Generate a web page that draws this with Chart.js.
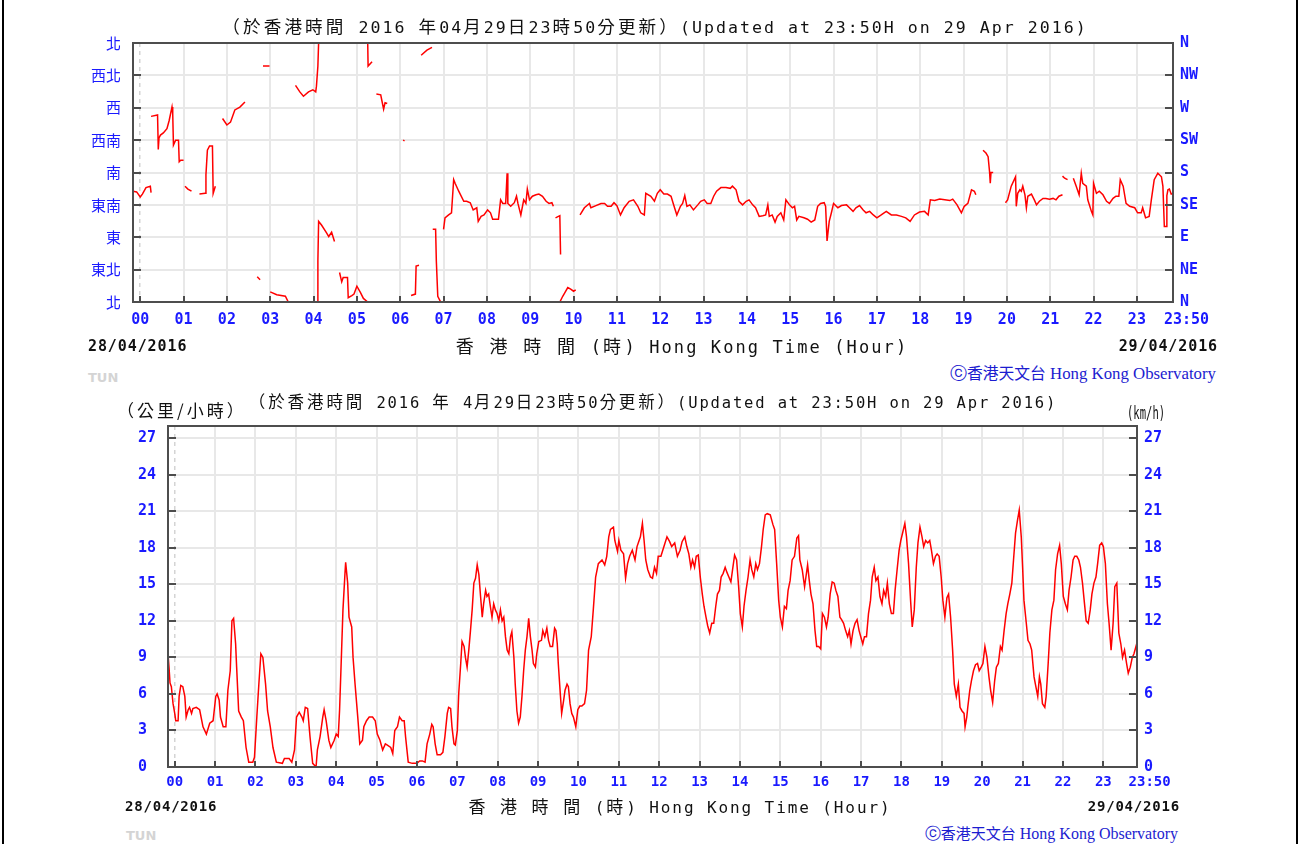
<!DOCTYPE html>
<html>
<head>
<meta charset="utf-8">
<script src="https://cdn.jsdelivr.net/npm/chart.js@4.4.1/dist/chart.umd.min.js"></script>
<style>
  body { margin: 0; background: #fff; }
  #page { position: relative; width: 1303px; height: 844px; overflow: hidden; background: #fff; }
  canvas { position: absolute; left: 0; }
  #dirChart { top: 0; }
  #spdChart { top: 390px; }
  .t { position: absolute; white-space: nowrap; font-family: "DejaVu Sans Mono", monospace; font-size: 16px; line-height: 20px; letter-spacing: 1.9px; color: #111; }
  .t .zh { font-family: "Noto Sans CJK TC", sans-serif; font-size: 17px; letter-spacing: 3px; }
  .t.big { font-size: 16.6px; letter-spacing: 2px; }
  .t.big .zh { font-size: 17.6px; letter-spacing: 3.1px; }
  .t.small { font-size: 15.5px; letter-spacing: 1.85px; }
  .t.small .zh { font-size: 16.5px; letter-spacing: 2.9px; }
  .t.axbig { font-size: 17px; letter-spacing: 2.1px; }
  .t.axbig .zh { font-size: 18px; letter-spacing: 3.4px; }
  .mid { transform: translateX(-50%); }
  .date { font-weight: bold; font-size: 15px; letter-spacing: 0.9px; }
  .date.sm { font-size: 14px; letter-spacing: 0.8px; }
  .credit { font-family: "Liberation Serif", serif; font-size: 16px; letter-spacing: 0; color: #1c1cd0; }
  .credit .zh { font-size: 15px; letter-spacing: 0; }
  .credit.lg { font-size: 16.8px; }
  .credit.lg .zh { font-size: 15.8px; }
  .tun { font-family: "DejaVu Sans", sans-serif; font-weight: bold; font-size: 13px; line-height: 15px; color: #d4d4d4; letter-spacing: 0; }
  .unit { font-size: 17px; letter-spacing: 0; transform: scaleX(0.62); transform-origin: left center; }
  .edge { position: absolute; top: 0; width: 2px; height: 844px; background: #000; }
</style>
</head>
<body>
<div id="page">
  <canvas id="dirChart" width="1303" height="335"></canvas>
  <canvas id="spdChart" width="1303" height="430"></canvas>

  <div class="t big mid" style="left:655px;top:16px"><span class="zh">（於香港時間</span> 2016 <span class="zh">年</span>04<span class="zh">月</span>29<span class="zh">日</span>23<span class="zh">時</span>50<span class="zh">分更新）</span>(Updated at 23:50H on 29 Apr 2016)</div>
  <div class="t axbig mid" style="left:682px;top:335px"><span class="zh">香</span> <span class="zh">港</span> <span class="zh">時</span> <span class="zh">間</span> (<span class="zh">時</span>) Hong Kong Time (Hour)</div>
  <div class="t date" style="left:88px;top:336px">28/04/2016</div>
  <div class="t date" style="right:85px;top:336px">29/04/2016</div>
  <div class="t credit lg" style="right:87px;top:363px">ⓒ<span class="zh">香港天文台</span> Hong Kong Observatory</div>
  <div class="t tun" style="left:88px;top:370px">TUN</div>

  <div class="t" style="left:117px;top:400px"><span class="zh">（公里/小時）</span></div>
  <div class="t small mid" style="left:653px;top:391px"><span class="zh">（於香港時間</span> 2016 <span class="zh">年</span> 4<span class="zh">月</span>29<span class="zh">日</span>23<span class="zh">時</span>50<span class="zh">分更新）</span>(Updated at 23:50H on 29 Apr 2016)</div>
  <div class="t unit" style="left:1127px;top:403px">(km/h)</div>
  <div class="t mid" style="left:680px;top:796px"><span class="zh">香</span> <span class="zh">港</span> <span class="zh">時</span> <span class="zh">間</span> (<span class="zh">時</span>) Hong Kong Time (Hour)</div>
  <div class="t date sm" style="left:125px;top:796px">28/04/2016</div>
  <div class="t date sm" style="right:123px;top:796px">29/04/2016</div>
  <div class="t credit" style="right:125px;top:823px">ⓒ<span class="zh">香港天文台</span> Hong Kong Observatory</div>
  <div class="t tun" style="left:126px;top:828px">TUN</div>

  <div class="edge" style="left:2px"></div>
  <div class="edge" style="left:1296px"></div>
</div>

<script>
// time axis, minutes from 00:00 on 29/04 (window starts 23:50 the day before)
const hourTicks = [0, 60, 120, 180, 240, 300, 360, 420, 480, 540, 600, 660, 720, 780, 840, 900,
  960, 1020, 1080, 1140, 1200, 1260, 1320, 1380, 1430];
const hourLabels = ['00', '01', '02', '03', '04', '05', '06', '07', '08', '09', '10', '11', '12',
  '13', '14', '15', '16', '17', '18', '19', '20', '21', '22', '23', '23:50'];

// wind direction (degrees), null = break in the trace
const dirTicks = [0, 45, 90, 135, 180, 225, 270, 315, 360];
const dirLabelsZh = ['北', '東北', '東', '東南', '南', '西南', '西', '西北', '北'];
const dirLabelsEn = ['N', 'NE', 'E', 'SE', 'S', 'SW', 'W', 'NW', 'N'];

const dirMinutes = [
  -10, -5, 0, 3, 8, 14, 15, null,
  15, 24, 25, 26, 28, 32, 37, 40, 44, 45, 46, 49, 53, 54, 56, 60, null,
  62, 66, 71, null,
  82, 90, 91, 93, 96, 100, 101, 104, null,
  114, 120, 125, 131, 138, 145, null,
  162, 166, null,
  170, 179, null,
  180, 189, 201, 205, 212, null,
  215, 221, 226, 233, 239, 243, 244, 246, 247, null,
  245, 246, 247, 251, 258, 261, 265, 269, null,
  276, 279, 281, 287, 288, 293, 296, 300, 305, 309, 315, null,
  315, 315.5, 321, null,
  327, 333, 335, 337, 339, 342, null,
  364, 366, null,
  375, 381, 382, 386, null,
  389, 397, 404, null,
  405, 409, 410, 412, 416, null,
  413, 418, null,
  420, 422, 427, 431, 434, 436, 441, 448, 452, 457,
  461, 466, 468, 472, 476, 481, 485, 488, 496, 499,
  502, 506, 508, 509, 513, 518, 521, 523, 527, 531,
  534, 536, 539, 543, 548, 552, 557, 562, 566, 570,
  572, null,
  575, 581, 582, null,
  581, 585, 588, 592, 596, 600, 603, null,
  609, 615, 622, 624, 631, 638, 643, 647, 652, 656,
  660, 665, 670, 677, 683, 689, 693, 698, 700, 707,
  712, 716, 720, 725, 730, 735, 738, 743, 748, 751,
  754, 757, 761, 766, 772, 776, 781, 785, 790, 794,
  798, 804, 811, 817, 820, 825, 829, 834, 839, 843,
  848, 852, 857, 862, 866, 869, 871, 875, 879, 882,
  887, 891, 894, 899, 903, 906, 909, 912, 919, 924,
  929, 934, 938, 942, 947,
  949, 951, 954, 957, 960, 966, 971, 978, 982, 987,
  991, 996, 1001, 1005, 1010, 1015, 1020, 1026, 1033, 1040,
  1047, 1054, 1060, 1066, 1072, 1079, 1086, 1091, 1094, 1100,
  1107, 1114, 1121, 1125, 1131, 1137, 1141, 1146, 1151, 1155,
  1157, null,
  1167, 1171, 1174, 1176, 1177, 1178, 1181, null,
  1198, 1201, 1206, 1212, 1213, 1215, 1218, 1220, 1222, 1225,
  1227, 1229, 1234, 1238, 1241, 1245, 1250, 1254, 1259, 1264,
  1268, 1272, 1277, null,
  1277, 1280, 1284, null,
  1292, 1296, 1300, 1303, 1305, 1310, 1312, 1317, 1319, 1320,
  1324, 1328, 1333, 1338, 1342, 1347, 1351, 1355, 1357, 1361,
  1365, 1370, 1377, 1381, 1386, 1388, 1392, 1397, 1400, 1404,
  1409, 1414, 1416, 1418, 1421, 1421.5, 1423, 1425, 1427.5, 1430
];
const dirDegrees = [
  154, 153, 146, 150, 159, 161, 152, null,
  258, 260, 212, 228, 232, 235, 241, 252, 271, 262, 218, 225, 225, 195, 197, 197, null,
  161, 157, 154, null,
  150, 151, 177, 211, 217, 217, 151, 161, null,
  255, 246, 250, 267, 271, 278, null,
  35, 31, null,
  328, 328, null,
  14, 10, 8, 0, 0, null,
  301, 292, 286, 292, 295, 292, 300, 328, 360, null,
  0, 57, 112, 107, 96, 91, 97, 84, null,
  41, 28, 34, 34, 6, 9, 11, 22, 13, 5, 0, null,
  360, 328, 334, null,
  289, 288, 278, 268, 277, 276, null,
  225, 224, null,
  9, 11, 50, 51, null,
  343, 350, 354, null,
  101, 101, 57, 8, 0, null,
  360, 360, null,
  101, 117, 121, 124, 170, 165, 154, 140, 140, 138,
  128, 131, 112, 119, 121, 128, 124, 115, 115, 142,
  137, 137, 179, 137, 133, 138, 147, 137, 121, 142,
  137, 157, 142, 147, 149, 150, 147, 140, 137, 138,
  133, null,
  117, 120, 66, null,
  0, 8, 13, 20, 18, 15, 17, null,
  121, 131, 137, 131, 134, 137, 137, 133, 133, 138,
  134, 121, 131, 140, 142, 133, 124, 121, 151, 147,
  140, 151, 156, 150, 150, 147, 137, 121, 133, 137,
  148, 133, 135, 128, 135, 140, 142, 137, 137, 147,
  154, 159, 159, 158, 161, 156, 140, 135, 140, 142,
  135, 131, 119, 120, 121, 135, 119, 121, 111, 119,
  124, 114, 142, 135, 131, 133, 114, 119, 117, 115,
  111, 114, 133, 137, 138,
  133, 85, 112, 124, 137, 131, 134, 135, 131, 126,
  131, 134, 128, 124, 126, 121, 117, 121, 126, 121,
  121, 119, 117, 112, 121, 125, 126, 121, 142, 141,
  143, 142, 141, 143, 135, 124, 133, 137, 156, 154,
  149, null,
  211, 207, 202, 181, 165, 180, 180, null,
  138, 142, 161, 174, 133, 151, 156, 154, 161, 149,
  131, 147, 150, 142, 135, 140, 144, 144, 143, 144,
  142, 147, 149, null,
  175, 172, 170, null,
  172, 161, 149, 179, 165, 161, 142, 126, 121, 165,
  151, 154, 149, 140, 137, 144, 147, 147, 170, 161,
  137, 133, 131, 124, 124, 131, 117, 119, 142, 170,
  179, 174, 161, 105, 105, 148, 156, 157, 150, 151
];

// wind speed (km/h)
const spdTicks = [0, 3, 6, 9, 12, 15, 18, 21, 24, 27];

const spdMinutes = [
  -10, -8.5, -7, -5, -2.5, 0, 1.5, 5, 6.5, 9,
  12, 15, 17, 20, 22, 25, 27, 32, 37, 42,
  47, 52, 57, 61, 63, 66, 68, 72, 76, 79,
  82.5, 85, 87.5, 90.5, 92, 95, 99, 102, 106, 110,
  116, 118.5, 122, 125, 128, 131, 135, 138, 142, 146,
  151, 160, 163, 170, 174, 178, 181, 185, 189, 191,
  194, 197.5, 201, 205, 210, 212, 216, 220, 222, 225,
  229, 232, 237, 240, 243, 245, 248, 250, 253, 254,
  257, 259, 263, 265, 268, 272, 275, 279, 281, 285,
  289, 294, 298, 301, 305, 309, 313, 316, 321, 324,
  327, 331, 334, 338, 341, 343, 347, 353, 360, 364,
  368, 372, 375, 379, 382, 384, 387, 390, 395, 398.5,
  401.5, 405, 407, 410, 412, 415, 417, 420, 422, 425,
  427, 430, 432, 434.5, 437, 439.5, 442, 444.5, 447, 449.5,
  452, 454.5, 457, 459, 462, 464, 466.5, 469, 471.5, 474,
  476.5, 479, 481.5, 484, 486.5, 489, 491.5, 494, 496.5, 499,
  501, 504, 506, 508.5, 511, 513.5, 516, 518.5, 521, 523.5,
  526, 528.5, 531, 533, 536, 538, 541, 545, 547, 550,
  553, 555.5, 558, 561.5, 564.5, 566.5, 568.5, 570, 573, 575,
  578, 580, 583, 585, 587.5, 590, 592.5, 596, 599, 602,
  605, 609, 612, 615, 619, 622, 625.5, 629.5,
  635, 639, 642, 645, 647.5, 652, 654, 658, 660, 663,
  667, 670, 673, 676, 680, 684, 687, 692, 695, 697.5,
  700, 703, 707, 710, 713, 716, 718.5, 722.5, 727, 731.5,
  735.5, 738.5, 743, 747, 751, 754, 758, 761, 764, 767,
  769.5, 772.5, 775, 778, 781, 784, 786.5, 789.5, 792, 795,
  798, 801, 804, 806.5, 809.5, 812, 815, 818, 820.5, 823.5,
  826.5, 829, 832, 835, 838, 840.5, 843.5, 846, 849, 852,
  855, 857.5, 860.5, 863.5, 866, 869, 872, 874.5, 877.5, 880.5,
  885, 889, 891.5, 894.5, 897.5, 900, 903, 906, 909, 911.5,
  914.5, 917.5, 921, 924.5, 927, 929, 932.5, 936, 938, 940.5,
  943, 945.5, 948.5, 951.5, 954, 957, 960, 962.5, 965.5, 968.5,
  971, 974, 977, 980, 982.5, 985.5, 988.5, 991, 994, 997,
  1000, 1002.5, 1005, 1008, 1011, 1014, 1017, 1019.5, 1022.5, 1025,
  1028, 1031, 1034, 1036.5, 1039.5, 1042, 1045, 1048, 1051, 1053.5,
  1056.5, 1059, 1062, 1065, 1068, 1070.5, 1073.5, 1076.5, 1079, 1082,
  1085, 1087.5, 1090.5, 1093.5, 1096, 1099, 1102, 1104.5, 1107.5, 1110.5,
  1113, 1116, 1119, 1122, 1124.5, 1127.5, 1130.5, 1133, 1136, 1139,
  1141.5, 1144.5, 1147.5, 1150, 1153, 1156, 1158.5, 1161.5, 1164.5, 1167,
  1170, 1173, 1174.5, 1177, 1178.5, 1181.5, 1184, 1187, 1190, 1193,
  1195.5, 1198.5, 1201, 1204, 1207, 1210, 1212.5, 1215.5, 1218.5, 1221,
  1224, 1227, 1229.5, 1232.5, 1235.5, 1238, 1241, 1244, 1246.5, 1249.5,
  1252.5, 1255, 1258, 1260, 1262, 1265.5, 1268, 1271, 1273.5, 1277,
  1279, 1282.5, 1285, 1287, 1289.5, 1293, 1295, 1298, 1300.5, 1303.5,
  1306.5, 1309, 1312, 1315, 1317.5, 1320.5, 1323.5, 1326.5, 1329, 1332,
  1335, 1337.5, 1340.5, 1343.5, 1346, 1349, 1352, 1354.5, 1357.5, 1360.5,
  1363, 1366, 1369, 1371.5, 1374.5, 1377.5, 1380, 1383, 1386, 1388.5,
  1391.5, 1394.5, 1397, 1400, 1403, 1406, 1408.5, 1411.5, 1414.5, 1417,
  1420, 1423, 1425.5, 1428.5, 1430
];
const spdValues = [
  9.3, 8.2, 6.9, 6.6, 5.2, 4.4, 3.8, 3.8, 5.8, 6.7,
  6.6, 5.8, 4.1, 4.7, 4.9, 4.4, 4.8, 4.9, 4.7, 3.3,
  2.7, 3.6, 3.8, 5.8, 6, 5.5, 4.1, 3.3, 3.3, 6.3,
  7.9, 12, 12.2, 10.1, 8.2, 4.6, 4.1, 3.8, 1.6, 0.4,
  0.4, 0.8, 4.1, 6.8, 9.3, 9, 6.8, 4.6, 3.3, 1.6,
  0.4, 0.3, 0.7, 0.7, 0.4, 1.4, 4.1, 4.5, 4.1, 3.8,
  4.9, 4.8, 2.5, 0.3, 0, 1.4, 2.5, 4.1, 4.7, 3.8,
  2.2, 1.6, 2.2, 2.7, 2.5, 4.7, 9.6, 12.9, 15.9, 16.8,
  15.1, 12.3, 11.5, 9, 6.8, 4.1, 1.9, 2.2, 3.3, 3.8,
  4.1, 4.1, 3.8, 2.7, 2.2, 1.4, 1.9, 1.8, 1.6, 1.1,
  3, 3.3, 4.1, 3.8, 3.8, 2.5, 0.4, 0.3, 0.3, 0.5,
  0.5, 0.4, 1.9, 2.7, 3.5, 3.3, 1.9, 1, 1, 1.2,
  2.5, 4.4, 4.9, 4.8, 3.3, 1.9, 1.8, 3, 6, 8.5,
  10.3, 9.9, 9, 8.2, 9.6, 11.2, 12.9, 15.1, 15.5, 16.6,
  15.8, 14, 12.3, 13.4, 14.5, 14, 14.2, 13.2, 12.3, 13.4,
  12.9, 12.6, 12, 12.9, 12, 12.3, 10.7, 9.6, 9.3, 10.7,
  11.1, 9, 6.8, 4.6, 3.6, 4.1, 5.8, 7.9, 9.6, 10.7,
  12.2, 10.7, 9.6, 8.5, 8.2, 9.3, 10.3, 10.4, 11.2, 10.7,
  11.4, 10.4, 9.9, 9.9, 11.4, 11.2, 10.1, 8.5, 6, 4.4,
  5.5, 6.3, 6.8, 6.6, 5.2, 4.4, 4.1, 3.3, 4.7, 5,
  5, 5.2, 6.3, 9.6, 10.7, 12.9, 15.6, 16.7,
  17, 16.6, 17.3, 18.9, 19.5, 19.7, 18.6, 17.7, 18.6, 17.8,
  17.5, 15.5, 16.7, 17.3, 17.8, 17, 18.1, 18.9, 20, 18.6,
  17, 16.2, 15.6, 15.5, 16.4, 15.9, 17.3, 17.3, 18.1, 18.9,
  18.5, 18.1, 18.4, 17.3, 17.8, 18.5, 18.9, 18.1, 17.5, 16.4,
  17, 16.4, 17.3, 17.4, 15.6, 14.2, 13.2, 12.3, 11.6, 11,
  11.8, 11.8, 13.2, 14.2, 14.5, 15.6, 15.9, 16.4, 16, 15.6,
  15.2, 16.2, 17.4, 17, 14.8, 12.6, 11.5, 13.2, 14.5, 15.6,
  17, 16.2, 15.6, 16.7, 16.2, 16.7, 18.1, 19.5, 20.7, 20.8,
  20.7, 19.9, 19.5, 16.7, 13.7, 12.3, 11.5, 13.2, 13, 14.5,
  15.3, 17, 17.3, 18.8, 19, 17, 16.2, 14.8, 15.6, 16.6,
  15.3, 14.2, 13.4, 11.2, 9.9, 9.9, 9.7, 12.6, 12.3, 11.5,
  12.3, 14.2, 15.2, 15.1, 14.5, 14, 12.3, 12.1, 11.8, 11.2,
  10.7, 11.2, 10.1, 11.2, 11.8, 12.1, 11.2, 10.7, 10.1, 10.7,
  10.7, 12.6, 13.7, 15.6, 16.4, 15.3, 15.6, 14, 13.4, 14.5,
  14, 15.1, 13.4, 12.6, 12.6, 14.5, 16.2, 17.8, 18.6, 19.3,
  20, 18.9, 16.7, 13.7, 11.5, 12.9, 16.4, 18.4, 19.7, 18.9,
  18.1, 18.6, 18.4, 18.6, 17.8, 16.7, 17.3, 17.5, 17.3, 15.6,
  13.7, 12.3, 13.9, 14.2, 12.3, 9.6, 6.8, 5.8, 6.8, 4.9,
  4.6, 4.4, 3.3, 4.1, 4.9, 6.3, 7.1, 7.9, 8.4, 8.5,
  7.9, 8.2, 8.5, 9.9, 9, 7.4, 6.3, 5.3, 7.1, 8.2,
  8.5, 9.9, 9.6, 11.2, 12.6, 13.4, 14.2, 15.1, 17, 19.2,
  20.3, 21.1, 18.9, 16.4, 13.7, 11.8, 10.4, 10.1, 9.6, 7.4,
  6.8, 5.8, 7.4, 6.8, 5.2, 4.9, 5.8, 8.5, 11, 12.9,
  13.7, 16.2, 17.5, 18.2, 16.7, 14, 13.4, 12.9, 14.5, 15.6,
  17, 17.3, 17.3, 17, 16.4, 15.1, 13.4, 12, 11.8, 12.9,
  14.2, 15.1, 15.6, 16.7, 18.2, 18.4, 18.1, 16.7, 13.4, 11.8,
  9.6, 11.8, 14.8, 15.1, 11, 10.1, 9, 9.6, 8.5, 7.7,
  8.2, 9, 9.3, 9.9, 9.6
];

const blue = '#1a1aff';
const gridGrey = '#e8e8e8';

function toPoints(xs, ys) {
  return xs.map((t, i) => ({ x: t === null ? xs[i - 1] : t, y: ys[i] }));
}

function monoFont(size) {
  return { family: 'DejaVu Sans Mono', size: size, weight: 'bold' };
}

// plot frame plus short tick marks drawn inside the plot
const framePlugin = {
  id: 'frame',
  afterDraw(chart) {
    const { ctx, chartArea: a } = chart;
    const xs = chart.scales.x, ys = chart.scales.y;
    ctx.save();
    ctx.strokeStyle = '#4d4d4d';
    ctx.lineWidth = 2;
    ctx.beginPath();
    ys.ticks.forEach(t => {
      const py = Math.round(ys.getPixelForValue(t.value));
      ctx.moveTo(a.left, py); ctx.lineTo(a.left + 8, py);
      ctx.moveTo(a.right - 8, py); ctx.lineTo(a.right, py);
    });
    xs.ticks.forEach(t => {
      const px = Math.round(xs.getPixelForValue(t.value));
      ctx.moveTo(px, a.bottom); ctx.lineTo(px, a.bottom - 6);
    });
    ctx.stroke();
    ctx.strokeRect(a.left, a.top, a.right - a.left, a.bottom - a.top);
    ctx.restore();
  }
};

function timeAxis(height, padding, fontSize) {
  return {
    type: 'linear',
    min: -10,
    max: 1430,
    afterBuildTicks: s => { s.ticks = hourTicks.map(v => ({ value: v })); },
    afterFit: s => { s.height = height; },
    grid: {
      drawTicks: false,
      color: c => (c.tick && c.tick.value === 0) ? '#d4d4d4' : gridGrey,
      lineWidth: c => (c.tick && c.tick.value === 0) ? 1.5 : 2
    },
    border: { display: false, dash: c => (c.tick && c.tick.value === 0) ? [4, 4] : [] },
    ticks: {
      autoSkip: false,
      maxRotation: 0,
      color: blue,
      font: monoFont(fontSize),
      padding: padding,
      callback: (v, i) => i === hourLabels.length - 1 ? '   ' + hourLabels[i] : hourLabels[i]
    }
  };
}

new Chart(document.getElementById('dirChart'), {
  type: 'line',
  data: {
    datasets: [{
      data: toPoints(dirMinutes, dirDegrees),
      borderColor: '#ff0000',
      borderWidth: 1.5,
      pointRadius: 0,
      tension: 0,
      spanGaps: false,
      yAxisID: 'y'
    }]
  },
  options: {
    responsive: false,
    animation: false,
    devicePixelRatio: 1,
    layout: { padding: { top: 43, left: 0, right: 0, bottom: 0 } },
    plugins: { legend: { display: false }, tooltip: { enabled: false } },
    scales: {
      x: timeAxis(33, 9, 15),
      y: {
        position: 'left',
        min: 0,
        max: 360,
        afterBuildTicks: s => { s.ticks = dirTicks.map(v => ({ value: v })); },
        afterFit: s => { s.width = 133; },
        grid: { drawTicks: false, color: gridGrey, lineWidth: 2 },
        border: { display: false },
        ticks: {
          color: blue,
          font: { family: 'Noto Sans CJK TC', size: 15 },
          padding: 12,
          callback: (v, i) => dirLabelsZh[i]
        }
      },
      y2: {
        position: 'right',
        min: 0,
        max: 360,
        afterBuildTicks: s => { s.ticks = dirTicks.map(v => ({ value: v })); },
        afterFit: s => { s.width = 130; },
        grid: { display: false, drawTicks: false },
        border: { display: false },
        ticks: { color: blue, font: monoFont(15), padding: 7, callback: (v, i) => dirLabelsEn[i] }
      }
    }
  },
  plugins: [framePlugin]
});

new Chart(document.getElementById('spdChart'), {
  type: 'line',
  data: {
    datasets: [{
      data: toPoints(spdMinutes, spdValues),
      borderColor: '#ff0000',
      borderWidth: 1.5,
      pointRadius: 0,
      tension: 0,
      yAxisID: 'y'
    }]
  },
  options: {
    responsive: false,
    animation: false,
    devicePixelRatio: 1,
    layout: { padding: { top: 36, left: 138, right: 0, bottom: 0 } },
    plugins: { legend: { display: false }, tooltip: { enabled: false } },
    scales: {
      x: timeAxis(53, 7, 14),
      y: {
        position: 'left',
        min: 0,
        max: 28,
        afterBuildTicks: s => { s.ticks = spdTicks.map(v => ({ value: v })); },
        afterFit: s => { s.width = 30; },
        grid: { drawTicks: false, color: gridGrey, lineWidth: 2 },
        border: { display: false },
        ticks: { color: blue, font: monoFont(15), padding: 0, crossAlign: 'far' }
      },
      y2: {
        position: 'right',
        min: 0,
        max: 28,
        afterBuildTicks: s => { s.ticks = spdTicks.map(v => ({ value: v })); },
        afterFit: s => { s.width = 166; },
        grid: { display: false, drawTicks: false },
        border: { display: false },
        ticks: { color: blue, font: monoFont(15), padding: 7 }
      }
    }
  },
  plugins: [framePlugin]
});
</script>
</body>
</html>
